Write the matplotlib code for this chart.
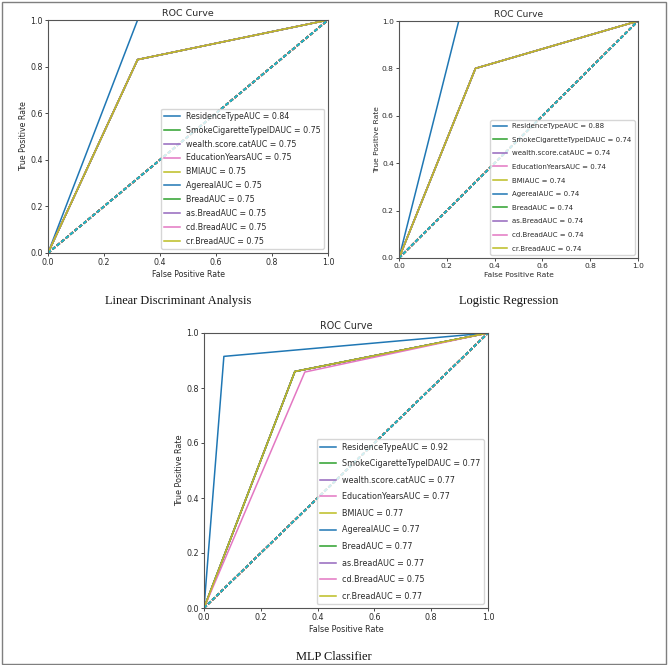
import matplotlib
matplotlib.use("Agg")
import matplotlib.pyplot as plt
from matplotlib.patches import Rectangle

names = ['ResidenceType', 'SmokeCigaretteTypeID', 'wealth.score.cat', 'EducationYears',
         'BMI', 'Agereal', 'Bread', 'as.Bread', 'cd.Bread', 'cr.Bread']

# single operating point (fpr, tpr) per feature, and AUC shown in legend
lda_fpr = [0.32, 0.32, 0.32, 0.32, 0.32, 0.32, 0.32, 0.32, 0.32, 0.32]
lda_tpr = [1.00, 0.83, 0.83, 0.83, 0.83, 0.83, 0.83, 0.83, 0.83, 0.83]
lda_auc = [0.84, 0.75, 0.75, 0.75, 0.75, 0.75, 0.75, 0.75, 0.75, 0.75]

lr_fpr = [0.25, 0.32, 0.32, 0.32, 0.32, 0.32, 0.32, 0.32, 0.32, 0.32]
lr_tpr = [1.00, 0.80, 0.80, 0.80, 0.80, 0.80, 0.80, 0.80, 0.80, 0.80]
lr_auc = [0.88, 0.74, 0.74, 0.74, 0.74, 0.74, 0.74, 0.74, 0.74, 0.74]

mlp_fpr = [0.07, 0.32, 0.32, 0.32, 0.32, 0.32, 0.32, 0.32, 0.355, 0.32]
mlp_tpr = [0.915, 0.86, 0.86, 0.86, 0.86, 0.86, 0.86, 0.86, 0.858, 0.86]
mlp_auc = [0.92, 0.77, 0.77, 0.77, 0.77, 0.77, 0.77, 0.77, 0.75, 0.77]

captions = ['Linear Discriminant Analysis', 'Logistic Regression', 'MLP Classifier']
ticks = [0.0, 0.2, 0.4, 0.6, 0.8, 1.0]

fig = plt.figure(figsize=(6.68, 6.65), dpi=100)

W, H = 668.0, 665.0
def rect(x0, y0, x1, y1):
    return [x0 / W, 1 - y1 / H, (x1 - x0) / W, (y1 - y0) / H]

specs = [
    dict(pos=rect(48, 20, 328, 253), fpr=lda_fpr, tpr=lda_tpr, auc=lda_auc,
         fs=5.7, lfs=5.7, lsp=0.62),
    dict(pos=rect(399, 21, 638, 258), fpr=lr_fpr, tpr=lr_tpr, auc=lr_auc,
         fs=5.4, lfs=5.0, lsp=1.1),
    dict(pos=rect(204, 333, 488, 608), fpr=mlp_fpr, tpr=mlp_tpr, auc=mlp_auc,
         fs=5.8, lfs=5.75, lsp=0.95),
]

spine_col = '#555555'
txt_col = '#2a2a2a'
for s in specs:
    ax = fig.add_axes(s['pos'])
    for n, f, t, a in zip(names, s['fpr'], s['tpr'], s['auc']):
        ax.plot([0, f, 1], [0, t, 1], lw=1.1, label=f'{n}AUC = {a:.2f}')
        ax.plot([0, 1], [0, 1], lw=1.3, linestyle=(0, (2.0, 1.2)))
    ax.set_xlim(0, 1)
    ax.set_ylim(0, 1)
    ax.set_xticks(ticks)
    ax.set_yticks(ticks)
    ax.tick_params(labelsize=s['fs'], length=2.2, width=0.6, pad=1.5,
                   colors=txt_col)
    for sp in ax.spines.values():
        sp.set_color(spine_col)
        sp.set_linewidth(0.8)
    ax.set_xlabel('False Positive Rate', fontsize=s['fs'], labelpad=2, color=txt_col)
    ax.set_ylabel('True Positive Rate', fontsize=s['fs'], labelpad=1.5, color=txt_col)
    ax.set_title('ROC Curve', fontsize=s['fs'] * 1.2, pad=3, color=txt_col)
    leg = ax.legend(loc='lower right', fontsize=s['lfs'], labelspacing=s['lsp'],
                    borderaxespad=0.5, fancybox=True, framealpha=0.8)
    for txt in leg.get_texts():
        txt.set_color(txt_col)

cap_font = dict(family=['Liberation Serif', 'DejaVu Serif'], fontsize=8.9,
                ha='center', va='center', color='#111111')
fig.text(178 / W, 1 - 301 / H, captions[0], **cap_font)
fig.text(509 / W, 1 - 301 / H, captions[1], **cap_font)
fig.text(334 / W, 1 - 657 / H, captions[2], **cap_font)

fig.add_artist(Rectangle((1.5 / W, 1 - 663.5 / H), (666 - 1.5) / W, (663.5 - 1.5) / H,
                         transform=fig.transFigure, fill=False,
                         edgecolor='#7f7f7f', linewidth=1.0))

fig.savefig('out.png', dpi=100)
